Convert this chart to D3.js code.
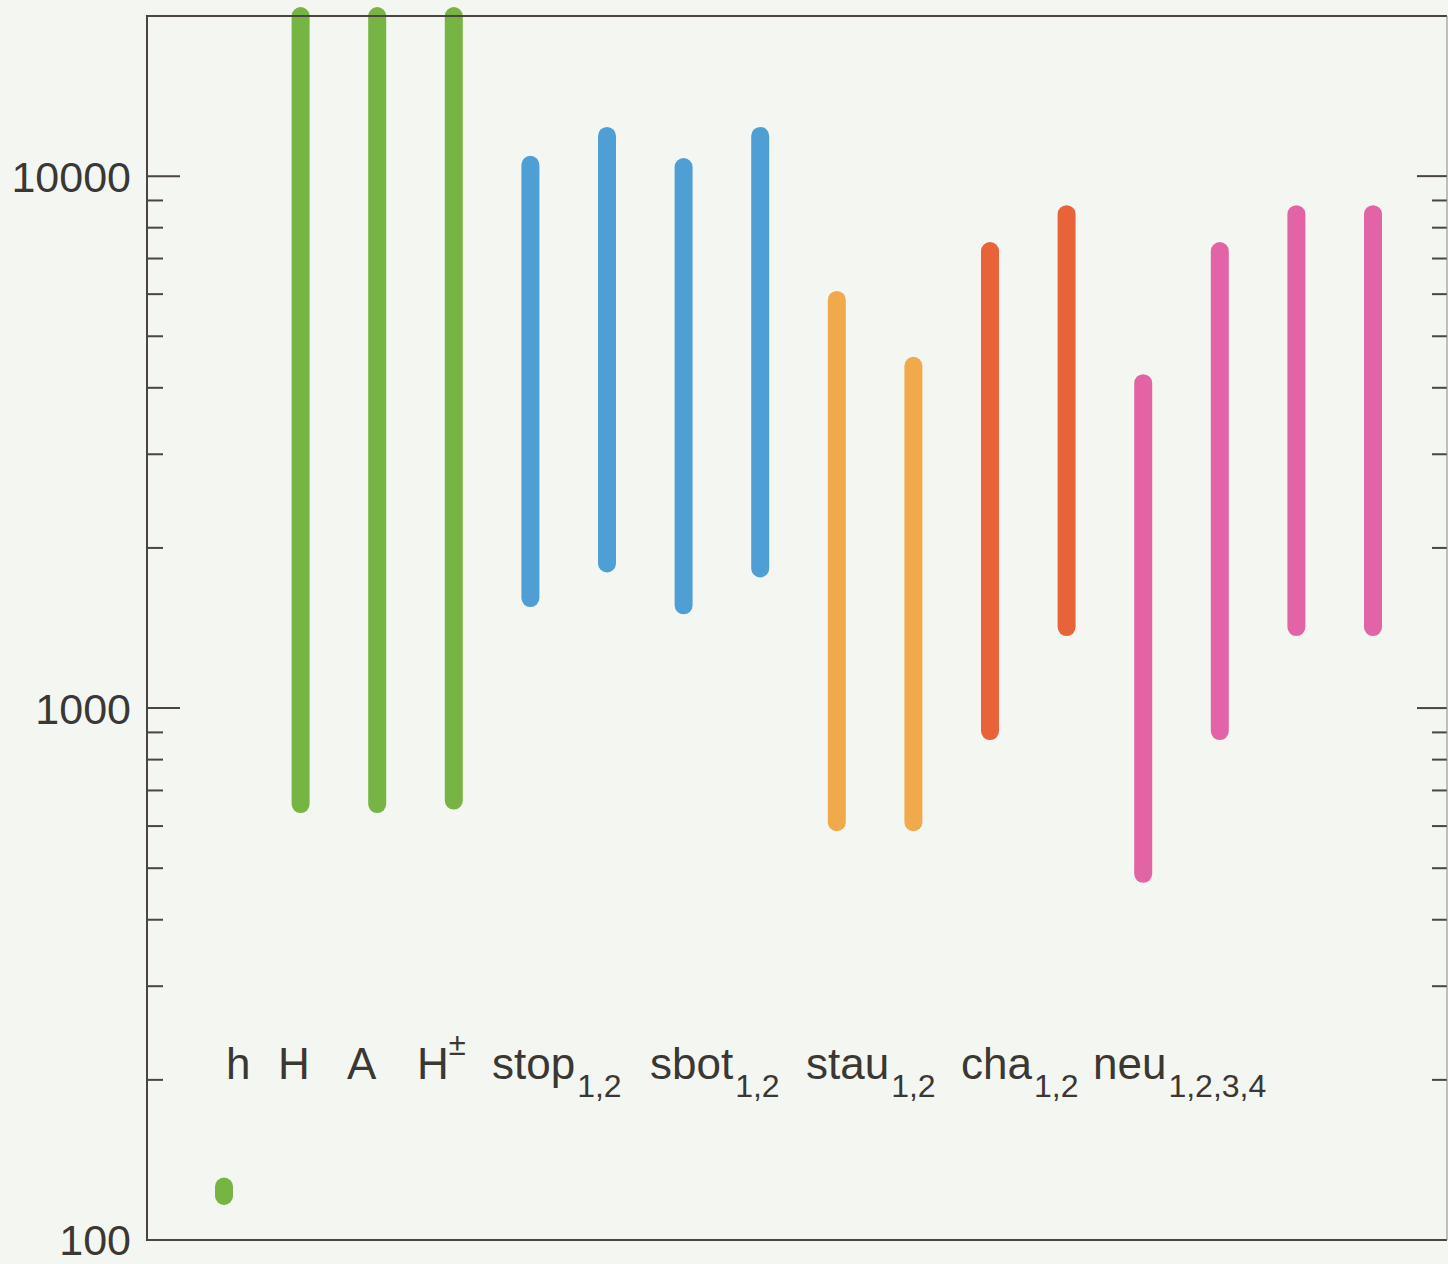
<!DOCTYPE html>
<html>
<head>
<meta charset="utf-8">
<script src="https://cdn.jsdelivr.net/npm/d3@7"></script>
<style>
  html, body { margin: 0; padding: 0; background: #f4f6f1; }
  svg { display: block; }
  text { font-family: "Liberation Sans", Arial, Helvetica, sans-serif; fill: #3b3733; }
</style>
</head>
<body>
<div id="chart"></div>
<script>
// particle mass ranges (GeV), log scale
const particles = ['h', 'H', 'A', 'H±', 'stop1', 'stop2', 'sbot1', 'sbot2',
  'stau1', 'stau2', 'cha1', 'cha2', 'neu1', 'neu2', 'neu3', 'neu4'];
const groups = ['higgs', 'higgs', 'higgs', 'higgs', 'squark', 'squark', 'squark', 'squark',
  'stau', 'stau', 'chargino', 'chargino', 'neutralino', 'neutralino', 'neutralino', 'neutralino'];
const massLow = [121, 660, 660, 670, 1610, 1870, 1560, 1830,
  610, 610, 905, 1420, 488, 905, 1420, 1420];
const massHigh = [126, 20000, 20000, 20000, 10500, 11900, 10400, 11900,
  5850, 4400, 7230, 8480, 4080, 7230, 8480, 8480];

// label row: main text, subscript, superscript
const labelText = ['h', 'H', 'A', 'H', 'stop', 'sbot', 'stau', 'cha', 'neu'];
const labelSub = ['', '', '', '', '1,2', '1,2', '1,2', '1,2', '1,2,3,4'];
const labelSup = ['', '', '', '±', '', '', '', '', ''];

const yTicks = [100, 1000, 10000];

const w = 1448, h = 1264;
const pad = { left: 147, right: 1447, top: 16, bottom: 1240 };

const groupColor = {
  higgs: '#76b443',
  squark: '#4f9fd4',
  stau: '#f0aa4b',
  chargino: '#e8623a',
  neutralino: '#e264a6'
};

const svg = d3.select('#chart').append('svg')
  .attr('width', w)
  .attr('height', h);

let yScale = d3.scaleLog()
  .domain([100, 20000])
  .range([pad.bottom, pad.top]);

let xScale = d3.scalePoint()
  .domain(particles)
  .range([224, 1373]);

// bars as fat round-capped lines
svg.selectAll('line.bar')
  .data(particles)
  .enter()
  .append('line')
  .attr('class', 'bar')
  .attr('x1', d => xScale(d))
  .attr('x2', d => xScale(d))
  .attr('y1', (d, i) => yScale(massLow[i]))
  .attr('y2', (d, i) => yScale(massHigh[i]))
  .attr('stroke', (d, i) => groupColor[groups[i]])
  .attr('stroke-width', 18)
  .attr('stroke-linecap', 'round');

// axes, left and right, ticks pointing inward
const minorTicks = yScale.ticks().filter(t => yTicks.indexOf(t) < 0 && t < 20000);

const axisColor = '#4a4540';

const leftAxis = svg.append('g').attr('id', 'y-axis');
leftAxis.selectAll('line.major')
  .data(yTicks)
  .enter().append('line')
  .attr('x1', pad.left).attr('x2', pad.left + 33)
  .attr('y1', d => yScale(d)).attr('y2', d => yScale(d))
  .attr('stroke', axisColor).attr('stroke-width', 2);
leftAxis.selectAll('line.minor')
  .data(minorTicks)
  .enter().append('line')
  .attr('x1', pad.left).attr('x2', pad.left + 16)
  .attr('y1', d => yScale(d)).attr('y2', d => yScale(d))
  .attr('stroke', axisColor).attr('stroke-width', 2);
leftAxis.selectAll('text')
  .data(yTicks)
  .enter().append('text')
  .attr('x', 131)
  .attr('y', d => yScale(d))
  .attr('dy', '0.36em')
  .attr('text-anchor', 'end')
  .style('font-size', '43px')
  .text(d => d);

const rightAxis = svg.append('g');
rightAxis.selectAll('line.major')
  .data(yTicks)
  .enter().append('line')
  .attr('x1', pad.right - 30).attr('x2', pad.right)
  .attr('y1', d => yScale(d)).attr('y2', d => yScale(d))
  .attr('stroke', axisColor).attr('stroke-width', 2);
rightAxis.selectAll('line.minor')
  .data(minorTicks)
  .enter().append('line')
  .attr('x1', pad.right - 15).attr('x2', pad.right)
  .attr('y1', d => yScale(d)).attr('y2', d => yScale(d))
  .attr('stroke', axisColor).attr('stroke-width', 2);

// frame
svg.append('path')
  .attr('d', `M${pad.right},${pad.top}H${pad.left}V${pad.bottom}H${pad.right}`)
  .attr('fill', 'none')
  .attr('stroke', axisColor)
  .attr('stroke-width', 2);
svg.append('line')
  .attr('x1', pad.right).attr('x2', pad.right)
  .attr('y1', pad.top).attr('y2', pad.bottom)
  .attr('stroke', '#8a8680')
  .attr('stroke-width', 1);

// particle labels row
const labelX = [226, 278, 347, 417, 492, 650, 806, 961, 1093];
const labels = svg.append('g');
labelText.forEach((t, i) => {
  let txt = labels.append('text')
    .attr('x', labelX[i])
    .attr('y', 1079)
    .style('font-size', '44px');
  txt.append('tspan').text(t);
  if (labelSup[i]) {
    txt.append('tspan')
      .attr('dy', -24)
      .style('font-size', '31px')
      .text(labelSup[i]);
  }
  if (labelSub[i]) {
    txt.append('tspan')
      .attr('dx', 2)
      .attr('dy', 18)
      .style('font-size', '32px')
      .text(labelSub[i]);
  }
});
</script>
</body>
</html>
